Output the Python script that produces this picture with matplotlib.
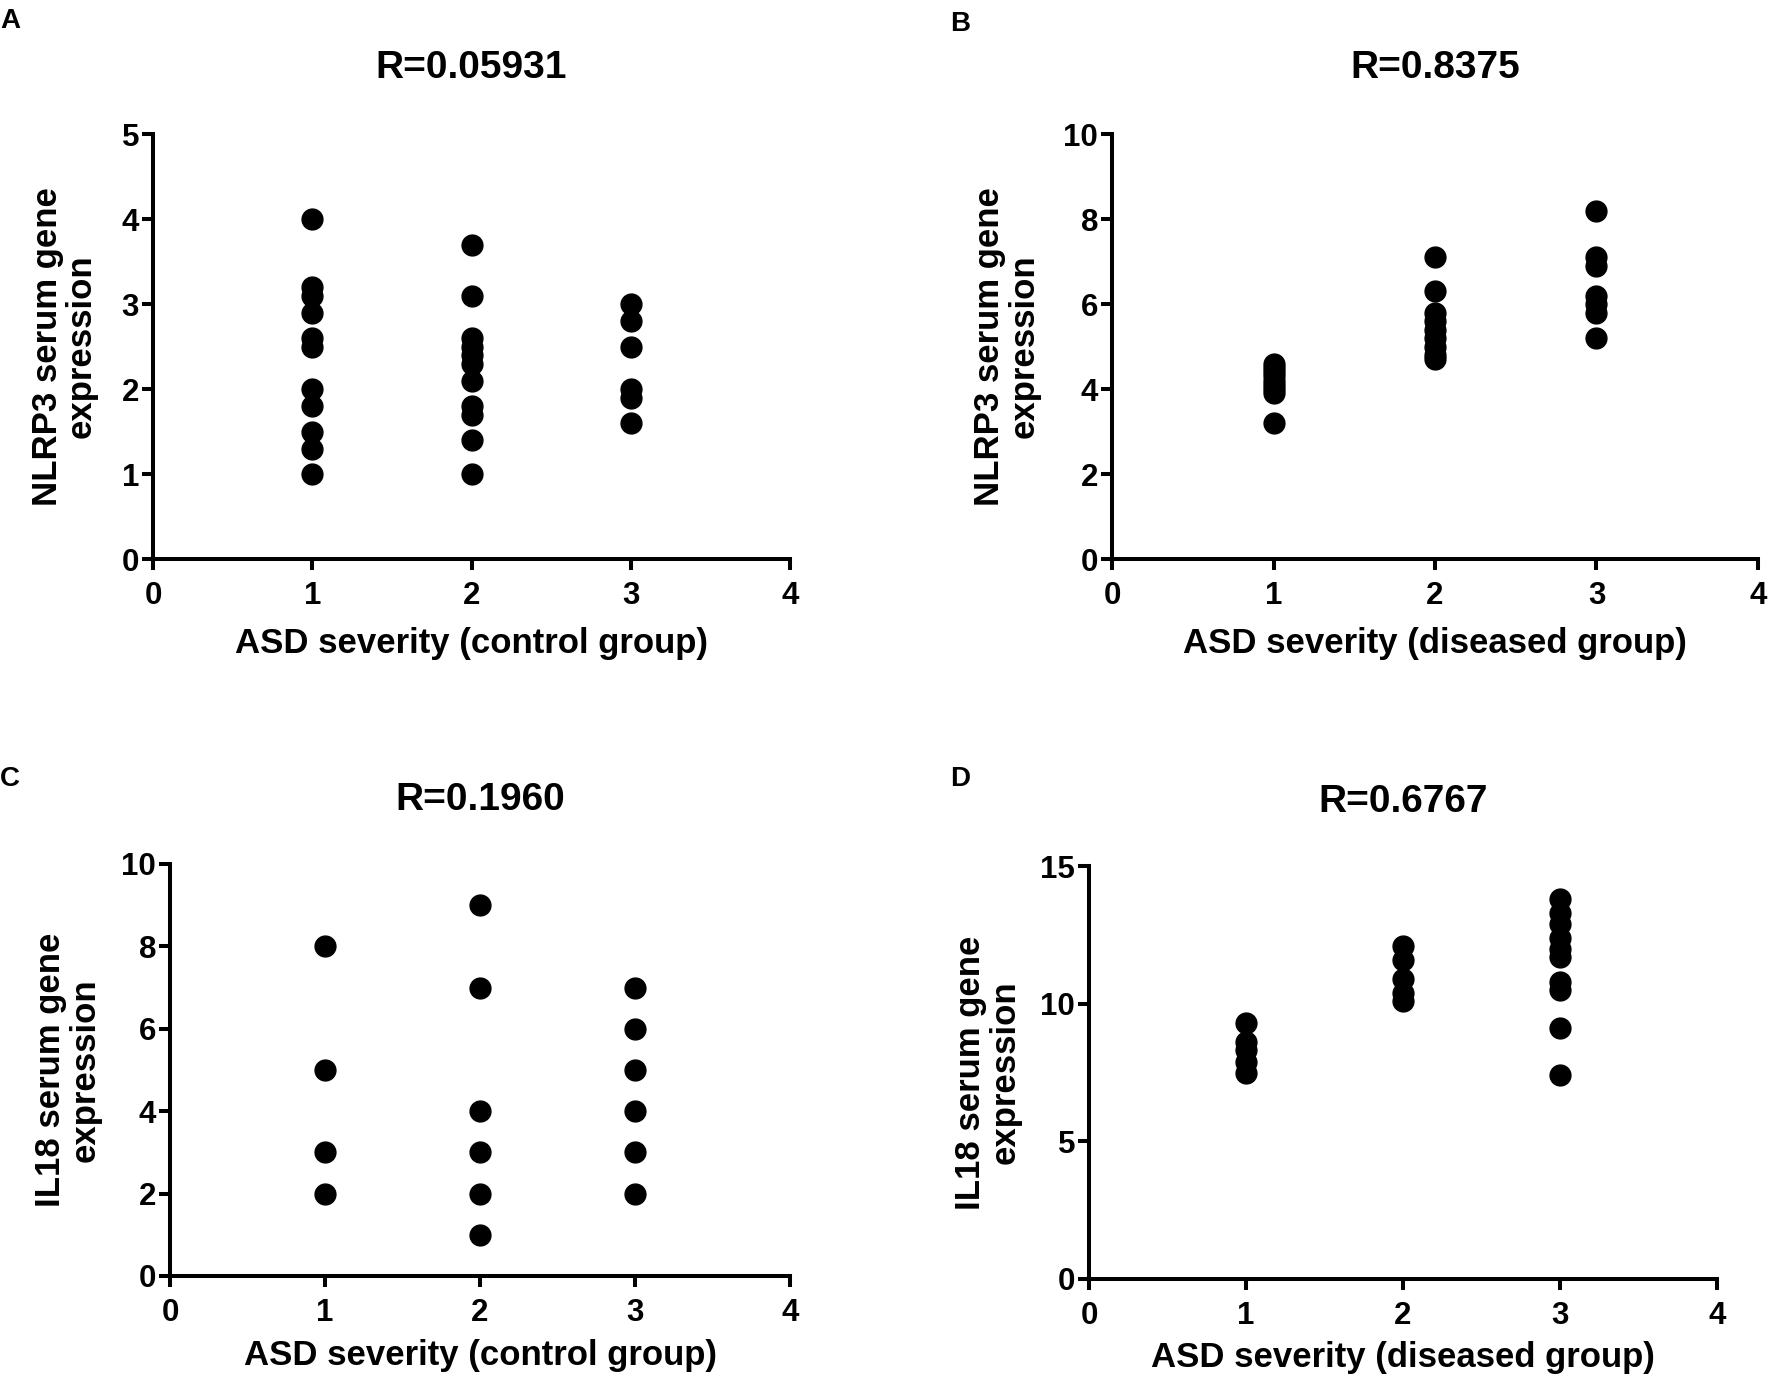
import matplotlib
matplotlib.use("Agg")
import matplotlib.pyplot as plt

plt.rcParams['font.family'] = ['Liberation Sans', 'DejaVu Sans']
plt.rcParams['font.weight'] = 'bold'

# panel A: NLRP3, control group
a_x = [1]*11 + [2]*11 + [3]*6
a_y = [4.0, 3.2, 3.1, 2.9, 2.6, 2.5, 2.0, 1.8, 1.5, 1.3, 1.0,
       3.7, 3.1, 2.6, 2.5, 2.4, 2.3, 2.1, 1.8, 1.7, 1.4, 1.0,
       3.0, 2.8, 2.5, 2.0, 1.9, 1.6]

# panel B: NLRP3, diseased group
b_x = [1]*9 + [2]*9 + [3]*7
b_y = [4.6, 4.5, 4.4, 4.3, 4.2, 4.1, 4.0, 3.9, 3.2,
       7.1, 6.3, 5.8, 5.6, 5.4, 5.2, 5.0, 4.8, 4.7,
       8.2, 7.1, 6.9, 6.2, 6.0, 5.8, 5.2]

# panel C: IL18, control group
c_x = [1]*4 + [2]*6 + [3]*6
c_y = [8, 5, 3, 2,
       9, 7, 4, 3, 2, 1,
       7, 6, 5, 4, 3, 2]

# panel D: IL18, diseased group
d_x = [1]*5 + [2]*5 + [3]*10
d_y = [9.3, 8.6, 8.3, 7.9, 7.5,
       12.1, 11.6, 10.9, 10.4, 10.1,
       13.8, 13.3, 12.9, 12.4, 12.0, 11.7, 10.8, 10.5, 9.1, 7.4]

titles = ["R=0.05931", "R=0.8375", "R=0.1960", "R=0.6767"]
letters = ["A", "B", "C", "D"]
xlabels = ["ASD severity (control group)", "ASD severity (diseased group)",
           "ASD severity (control group)", "ASD severity (diseased group)"]
ylabels = ["NLRP3 serum gene\nexpression", "NLRP3 serum gene\nexpression",
           "IL18 serum gene\nexpression", "IL18 serum gene\nexpression"]
yticks = [[0, 1, 2, 3, 4, 5], [0, 2, 4, 6, 8, 10],
          [0, 2, 4, 6, 8, 10], [0, 5, 10, 15]]
xticks = [0, 1, 2, 3, 4]

fig = plt.figure(figsize=(17.75, 13.83), dpi=100)

rects = [[0.0862, 0.5958, 0.3589, 0.3073],
         [0.6265, 0.5958, 0.3639, 0.3073],
         [0.0958, 0.0774, 0.3493, 0.2979],
         [0.6135, 0.0752, 0.3538, 0.2986]]
ylab_x = [-0.139, -0.163, -0.165, -0.161]
xlab_y = [-0.198, -0.198, -0.192, -0.191]
letter_pos = [(0.0, 0.994), (0.535, 0.992), (0.0, 0.446), (0.535, 0.446)]

data = [(a_x, a_y), (b_x, b_y), (c_x, c_y), (d_x, d_y)]

for i, (xs, ys) in enumerate(data):
    ax = fig.add_axes(rects[i])
    ax.plot(xs, ys, 'o', color='black', markersize=15, clip_on=False)
    ax.set_xlim(0, 4)
    ax.set_ylim(yticks[i][0], yticks[i][-1])
    ax.set_xticks(xticks)
    ax.set_yticks(yticks[i])
    for s in ['top', 'right']:
        ax.spines[s].set_visible(False)
    for s in ['left', 'bottom']:
        ax.spines[s].set_linewidth(2.9)
    ax.tick_params(axis='both', direction='out', length=8, width=2.9, labelsize=22.5)
    ax.tick_params(axis='x', pad=8)
    ax.tick_params(axis='y', pad=2)

    ax.set_title(titles[i], fontsize=28, fontweight='bold', y=1.155, va='center', pad=0)
    ax.set_xlabel(xlabels[i], fontsize=25, fontweight='bold', va='center')
    ax.xaxis.set_label_coords(0.5, xlab_y[i])
    ax.set_ylabel(ylabels[i], fontsize=25, fontweight='bold', va='center',
                  ha='center', multialignment='center', linespacing=1.05)
    ax.yaxis.set_label_coords(ylab_x[i], 0.5)

    fig.text(letter_pos[i][0], letter_pos[i][1], letters[i], fontsize=20,
             fontweight='bold', ha='left', va='top')

fig.savefig("out.png", dpi=100)
